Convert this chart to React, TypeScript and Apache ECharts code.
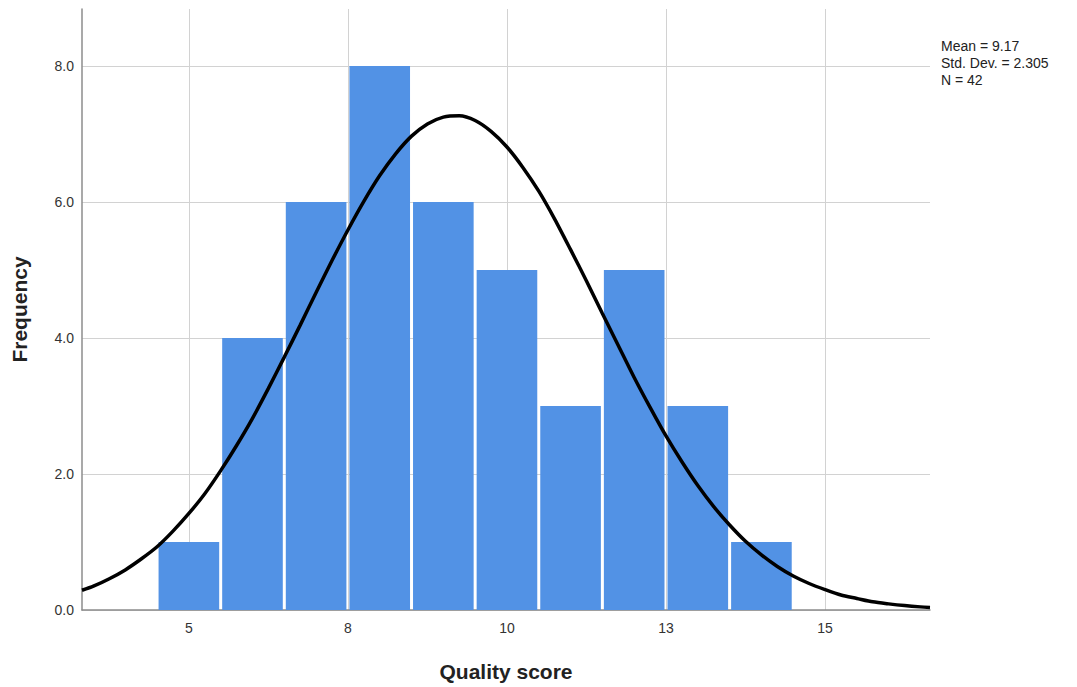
import React, { useEffect, useRef } from "react";
import * as echarts from "echarts";

const binCenters = [5, 6, 7, 8, 9, 10, 11, 12, 13, 14];
const frequencies = [1, 4, 6, 8, 6, 5, 3, 5, 3, 1];

const xTickValues = [5, 7.5, 10, 12.5, 15];
const yTickValues = [0, 2, 4, 6, 8];

const curveX = [3.32, 3.5, 3.75, 4, 4.25, 4.5, 4.75, 5, 5.25, 5.5, 5.75, 6, 6.25, 6.5, 6.75, 7, 7.25, 7.5, 7.75, 8, 8.25, 8.5, 8.75, 9, 9.25, 9.5, 9.75, 10, 10.25, 10.5, 10.75, 11, 11.25, 11.5, 11.75, 12, 12.25, 12.5, 12.75, 13, 13.25, 13.5, 13.75, 14, 14.25, 14.5, 14.75, 15, 15.25, 15.5, 15.75, 16, 16.25, 16.5, 16.65];
const curveY = [0.29, 0.35, 0.46, 0.59, 0.75, 0.93, 1.16, 1.42, 1.71, 2.05, 2.42, 2.82, 3.26, 3.72, 4.19, 4.67, 5.14, 5.59, 6.01, 6.39, 6.71, 6.97, 7.15, 7.25, 7.27, 7.2, 7.04, 6.81, 6.51, 6.16, 5.75, 5.3, 4.84, 4.36, 3.89, 3.42, 2.98, 2.56, 2.18, 1.83, 1.52, 1.25, 1.01, 0.81, 0.64, 0.5, 0.39, 0.3, 0.22, 0.17, 0.12, 0.09, 0.065, 0.046, 0.038];

const statsLines = ["Mean = 9.17", "Std. Dev. = 2.305", "N = 42"];

const FONT = "'Liberation Sans', Arial, Helvetica, sans-serif";

export default function App() {
  const ref = useRef<HTMLDivElement>(null);
  useEffect(() => {
    if (!ref.current) return;
    const chart = echarts.init(ref.current, null, { renderer: "svg" });
    const barData = binCenters.map((c, i) => [c, frequencies[i]]);
    const curveData = curveX.map((x, i) => [x, curveY[i]]);
    chart.setOption({
      animation: false,
      backgroundColor: "#ffffff",
      textStyle: { fontFamily: FONT },
      grid: { left: 82, width: 848, top: 9, height: 604 },
      xAxis: {
        type: "value",
        min: 3.32,
        max: 16.65,
        name: "Quality score",
        nameLocation: "middle",
        nameGap: 51,
        nameTextStyle: { fontSize: 21, fontWeight: "bold", color: "#222", fontFamily: FONT },
        axisLine: { show: true, lineStyle: { color: "#8c8c8c", width: 1.5 } },
        axisTick: { show: false, customValues: xTickValues },
        axisLabel: {
          customValues: xTickValues,
          formatter: (v: number) => String(Math.round(v)),
          fontSize: 14,
          color: "#333",
          margin: 11,
        },
        splitLine: { show: true, lineStyle: { color: "#d2d2d2", width: 1 } },
      },
      yAxis: {
        type: "value",
        min: 0,
        max: 8.84,
        name: "Frequency",
        nameLocation: "middle",
        nameGap: 52,
        nameRotate: 90,
        nameTextStyle: { fontSize: 21, fontWeight: "bold", color: "#222", fontFamily: FONT },
        axisLine: { show: true, lineStyle: { color: "#8c8c8c", width: 1.5 } },
        axisTick: { show: false, customValues: yTickValues },
        axisLabel: {
          customValues: yTickValues,
          formatter: (v: number) => v.toFixed(1),
          fontSize: 14,
          color: "#333",
          margin: 8,
          padding: [5, 0, 0, 0],
        },
        splitLine: { show: true, lineStyle: { color: "#d2d2d2", width: 1 } },
      },
      series: [
        {
          type: "custom",
          z: 2,
          data: barData,
          renderItem: (params: any, api: any) => {
            const x = api.value(0);
            const y = api.value(1);
            const p0 = api.coord([x - 0.5, y]);
            const p1 = api.coord([x + 0.5, 0]);
            return {
              type: "rect",
              shape: { x: p0[0] + 1.5, y: p0[1], width: p1[0] - p0[0] - 3, height: p1[1] - p0[1] },
              style: { fill: "#5292E5" },
            };
          },
        },
        {
          type: "line",
          z: 3,
          data: curveData,
          smooth: 0.25,
          symbol: "none",
          lineStyle: { color: "#000", width: 3.5 },
        },
      ],
      graphic: [
        {
          type: "text",
          left: 941,
          top: 37,
          style: {
            text: statsLines.join("\n"),
            fontSize: 14,
            lineHeight: 17,
            fill: "#222",
            fontFamily: FONT,
          },
        },
      ],
    });
    return () => chart.dispose();
  }, []);
  return (
    <div
      ref={ref}
      style={{ position: "fixed", left: 0, top: 0, width: 1077, height: 687, background: "#fff" }}
    />
  );
}
